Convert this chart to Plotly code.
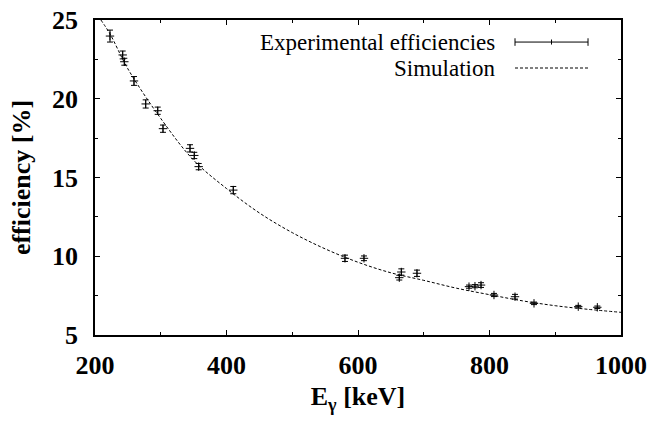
import plotly.graph_objects as go

# Experimental efficiencies
energy_keV = [222.8, 242.1, 244.6, 259.3, 277.1, 295.4, 303.4, 344.5, 351.0, 357.7,
              410.3, 580.2, 609.1, 662.8, 665.9, 689.7, 768.8, 777.9, 787.1, 806.8,
              838.8, 867.7, 935.0, 964.0]
efficiency = [23.98, 22.78, 22.35, 21.13, 19.67, 19.24, 18.10, 16.85, 16.40, 15.69,
              14.20, 9.87, 9.87, 8.64, 9.00, 8.92, 8.07, 8.10, 8.17, 7.54,
              7.43, 7.01, 6.80, 6.76]
efficiency_err = [0.38, 0.25, 0.22, 0.28, 0.26, 0.23, 0.23, 0.23, 0.20, 0.20,
                  0.23, 0.20, 0.15, 0.15, 0.20, 0.20, 0.10, 0.10, 0.15, 0.10,
                  0.15, 0.08, 0.08, 0.08]

# Simulation curve
sim_energy = [209, 223, 250, 300, 350, 400, 450, 500, 550, 600, 650, 700, 750,
              800, 850, 900, 950, 1000]
sim_eff = [25.0, 24.1, 21.9, 18.75, 16.1, 14.3, 12.75, 11.5, 10.47, 9.62, 8.95,
           8.47, 7.97, 7.56, 7.17, 6.86, 6.63, 6.44]

x_ticks = [200, 400, 600, 800, 1000]
y_ticks = [5, 10, 15, 20, 25]

legend_labels = ["Experimental efficiencies", "Simulation"]

FONT = "Liberation Serif, Times New Roman, serif"

fig = go.Figure()
fig.add_trace(go.Scatter(
    x=sim_energy, y=sim_eff, mode="lines", line_shape="spline",
    line=dict(color="black", width=1, dash="3px,2px"), showlegend=False,
    hoverinfo="skip"))
fig.add_trace(go.Scatter(
    x=energy_keV, y=efficiency, mode="markers",
    marker=dict(symbol="cross-thin", size=6, color="black",
                line=dict(color="black", width=1)),
    error_y=dict(type="data", array=efficiency_err, visible=True,
                 color="black", thickness=1, width=3),
    showlegend=False))

# custom legend (gnuplot style)
lx_text = 0.764
lx0, lx1 = 0.7985, 0.9373
ly = [0.930, 0.8476]
annotations = []
for lab, yy in zip(legend_labels, ly):
    annotations.append(dict(text=lab, x=lx_text, y=yy, xref="paper", yref="paper",
                            xanchor="right", yanchor="middle", showarrow=False,
                            font=dict(family=FONT, size=23, color="black")))
shapes = [
    dict(type="line", xref="paper", yref="paper", x0=lx0, x1=lx1, y0=ly[0], y1=ly[0],
         line=dict(color="black", width=1)),
    dict(type="line", xref="paper", yref="paper", x0=lx0, x1=lx0, y0=ly[0] - 0.012,
         y1=ly[0] + 0.012, line=dict(color="black", width=1)),
    dict(type="line", xref="paper", yref="paper", x0=lx1, x1=lx1, y0=ly[0] - 0.012,
         y1=ly[0] + 0.012, line=dict(color="black", width=1)),
    dict(type="line", xref="paper", yref="paper", x0=(lx0 + lx1) / 2, x1=(lx0 + lx1) / 2,
         y0=ly[0] - 0.008, y1=ly[0] + 0.008, line=dict(color="black", width=1)),
    dict(type="line", xref="paper", yref="paper", x0=lx0, x1=lx1, y0=ly[1], y1=ly[1],
         line=dict(color="black", width=1, dash="3px,2px")),
]

fig.update_layout(
    width=655, height=424,
    margin=dict(l=95, r=34, t=20, b=89, autoexpand=False),
    plot_bgcolor="white", paper_bgcolor="white",
    annotations=annotations, shapes=shapes,
    font=dict(family=FONT, color="black"),
)
fig.update_xaxes(
    range=[200, 1000], tickvals=x_ticks, ticktext=[f"<b>{v}</b>" for v in x_ticks],
    ticks="inside", ticklen=5, tickwidth=1, automargin=False, ticklabelstandoff=6,
    tickcolor="black", minor=dict(dtick=100, ticks="inside", ticklen=3, tickcolor="black"),
    showgrid=False, zeroline=False, showline=True, linecolor="black", linewidth=1.5,
    mirror="ticks",
    tickfont=dict(family=FONT, size=26, color="black"),
    title=dict(text="<b>E<sub>γ</sub> [keV]</b>", standoff=8,
               font=dict(family=FONT, size=26, color="black")),
)
fig.update_yaxes(
    range=[5, 25], tickvals=y_ticks, ticktext=[f"<b>{v}</b>" for v in y_ticks],
    ticks="inside", ticklen=5, tickwidth=1, automargin=False, ticklabelstandoff=10,
    tickcolor="black", minor=dict(dtick=2.5, ticks="inside", ticklen=3, tickcolor="black"),
    showgrid=False, zeroline=False, showline=True, linecolor="black", linewidth=1.5,
    mirror="ticks",
    tickfont=dict(family=FONT, size=26, color="black"),
    title=dict(text="<b>efficiency [%]</b>", standoff=14,
               font=dict(family=FONT, size=26, color="black")),
)

fig.write_html("out.html", config={"displayModeBar": False},
               post_script="document.body.style.margin='0';document.body.style.overflow='hidden';")
